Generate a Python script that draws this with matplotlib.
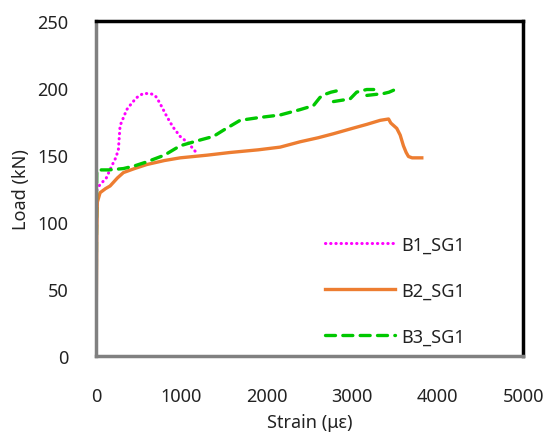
import numpy as np
import matplotlib
matplotlib.use("Agg")
import matplotlib.pyplot as plt

plt.rcParams['font.family'] = ['Noto Sans', 'DejaVu Sans']

# B1_SG1 (strain in microstrain, load in kN)
b1_strain = [0, 2, 5, 10, 47, 120, 184, 230, 261, 281, 320, 359, 420, 476, 550, 632, 680, 710, 770, 827, 900, 984, 1080, 1159]
b1_load = [0, 60, 110, 125, 128, 133, 142, 148, 154, 172, 178, 184, 189, 193, 196, 196, 195, 193, 186, 179, 171, 164, 159, 153]

# B2_SG1
b2_strain = [0, 3, 8, 15, 47, 110, 164, 250, 320, 450, 593, 800, 984, 1300, 1569, 1900, 2155, 2389, 2600, 2779, 3000, 3170, 3326, 3424, 3450, 3520, 3560, 3598, 3630, 3657, 3700, 3813]
b2_load = [0, 40, 90, 115, 122, 125, 127, 133, 137, 140, 143, 146, 148, 150, 152, 154, 156, 160, 163, 166, 170, 173, 176, 177, 174, 170, 165, 157, 152, 149, 148, 148]

# B3_SG1 (nan = break in trace)
b3_strain = [0, 3, 5, 8, 150, 320, 450, 593, 800, 984, 1200, 1374, 1500, 1686, 1900, 2155, 2389, 2545, 2620, 2662, 2750, 2818, 2880, np.nan,
             2779, 2974, 3050, 3100, 3170, 3250, np.nan, 3170, 3365, 3430, 3501]
b3_load = [0, 60, 120, 139, 139, 140, 142, 145, 150, 157, 161, 164, 169, 176, 178, 180, 184, 187, 193, 195, 197, 198, 197, np.nan,
           190, 192, 197, 198, 199, 199, np.nan, 194.6, 196, 197, 199]

fig = plt.figure(figsize=(5.49, 4.35), dpi=100)
ax = fig.add_axes([0.175, 0.179, 0.778, 0.77])

ax.plot(b1_strain, b1_load, color="#FF00FF", lw=2.2, linestyle=(0, (0.1, 1.6)), dash_capstyle="round", label="B1_SG1")
ax.plot(b2_strain, b2_load, color="#ED7D31", lw=2.4, label="B2_SG1")
ax.plot(b3_strain, b3_load, color="#00C800", lw=2.4, linestyle=(0, (3, 2.2)), dash_capstyle="round", label="B3_SG1")

ax.set_xlim(0, 5000)
ax.set_ylim(0, 250)
ax.set_xticks(range(0, 5001, 1000))
ax.set_yticks(range(0, 251, 50))
ax.tick_params(axis="x", length=0, pad=22, labelsize=13, labelcolor="#222222")
ax.tick_params(axis="y", length=0, pad=20, labelsize=13, labelcolor="#222222")

ax.set_xlabel("Strain (\u03bc\u03b5)", fontsize=13, labelpad=6, color="#222222")
ax.set_ylabel("Load (kN)", fontsize=13, labelpad=5, color="#222222")

for side in ["top", "right"]:
    ax.spines[side].set_color("black")
    ax.spines[side].set_linewidth(2.5)
for side in ["left", "bottom"]:
    ax.spines[side].set_color("#808080")
    ax.spines[side].set_linewidth(2.5)

ax.legend(loc="upper left", bbox_to_anchor=(0.535, 0.36), frameon=False, fontsize=13,
          handlelength=3.9, handletextpad=0.35, labelspacing=1.55, borderpad=0, borderaxespad=0,
          labelcolor="#222222")

fig.savefig("out.png", dpi=100)
